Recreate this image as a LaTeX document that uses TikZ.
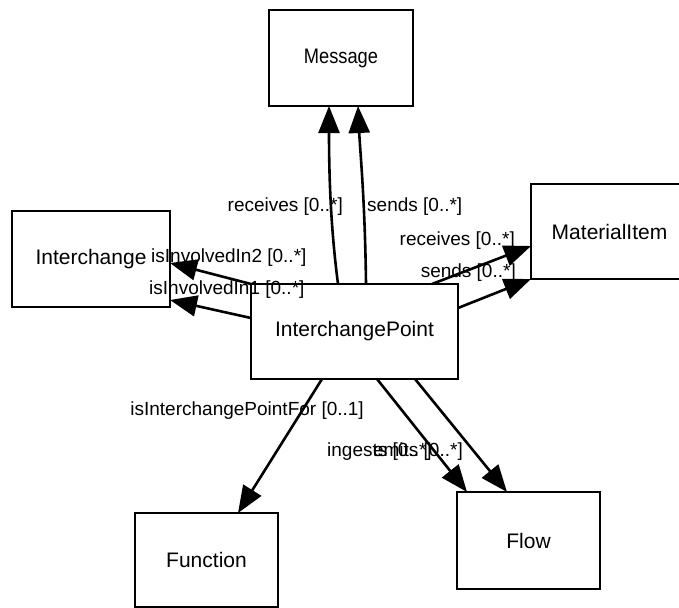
\documentclass[tikz,border=0pt]{standalone}
\usepackage{fontspec}
\setmainfont{Liberation Sans}
\usetikzlibrary{arrows.meta}
\tikzset{
  cls/.style={draw, line width=2.8pt, outer sep=0pt, inner sep=0pt, align=center,
    font=\fontsize{21}{25}\selectfont},
  rel/.style={line width=2.6pt, -{Triangle[length=27pt,width=21pt]}},
  lbl/.style={inner sep=0pt, font=\fontsize{19}{22}\selectfont},
}
\begin{document}
\begin{tikzpicture}[x=1pt,y=-1pt]
\useasboundingbox (0,0) rectangle (679,607);
% classes
\node[cls, minimum width=144pt, minimum height=96pt] (msg) at (341,58) {\scalebox{0.87}[1]{Message}};
\node[cls, minimum width=158pt, minimum height=96pt] (ich) at (91,259) {Interchange};
\node[cls, minimum width=157pt, minimum height=95pt] (mi) at (609.5,231.5) {MaterialItem};
\node[cls, minimum width=207pt, minimum height=95pt] (ip) at (354.5,331.5) {InterchangePoint};
\node[cls, minimum width=143pt, minimum height=94pt] (fn) at (206.5,560) {Function};
\node[cls, minimum width=143pt, minimum height=97pt] (flow) at (528.5,540.5) {Flow};
% relations
\draw[rel] ([xshift=87pt]ip.north west) .. controls (331,230) and (329,180) .. ([xshift=60pt]msg.south west);
\draw[rel] ([xshift=115pt]ip.north west) .. controls (365,200) and (360,150) .. ([xshift=89pt]msg.south west);
\draw[rel] (ip.north west) -- ([yshift=-4pt]ich.east);
\draw[rel] ([yshift=-34pt]ip.north west) -- ([yshift=-41pt]ich.east);
\draw[rel] ([xshift=181pt]ip.north west) -- ([yshift=-14.5pt]mi.west);
\draw[rel] ([yshift=-24pt]ip.north east) -- (mi.south west);
\draw[rel] ([xshift=71pt]ip.south west) -- ([xshift=103pt]fn.north west);
\draw[rel] ([xshift=126pt]ip.south west) -- ([xshift=10pt]flow.north west);
\draw[rel] ([xshift=164pt]ip.south west) -- ([xshift=50pt]flow.north west);
% labels
\node[lbl, anchor=east] (lrm) at (343,207) {receives [0..*]};
\node[lbl, anchor=west] (lsm) at (367,207) {sends [0..*]};
\node[lbl, anchor=east] (lrmi) at (515,241) {receives [0..*]};
\node[lbl, anchor=east] (lsmi) at (516,273) {sends [0..*]};
\node[lbl, anchor=west] (li2) at (151,258) {isInvolvedIn2 [0..*]};
\node[lbl, anchor=west] (li1) at (149,290) {isInvolvedIn1 [0..*]};
\node[lbl, anchor=east] (lipf) at (364,411) {isInterchangePointFor [0..1]};
\node[lbl, anchor=west] (ling) at (327,452) {ingests [0..*]};
\node[lbl, anchor=east] (lemi) at (463,452) {emits [0..*]};
\end{tikzpicture}
\end{document}
